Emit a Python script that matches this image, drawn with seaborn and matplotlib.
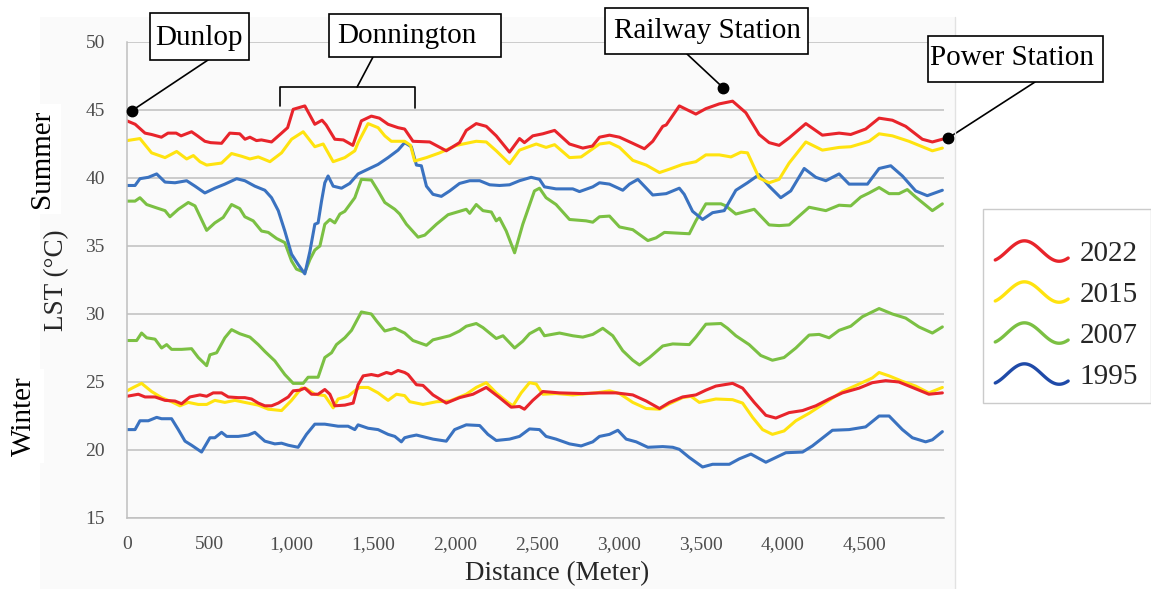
import numpy as np
import pandas as pd
import matplotlib
matplotlib.use("Agg")
import matplotlib.pyplot as plt
from matplotlib.legend_handler import HandlerBase
from matplotlib.lines import Line2D
from matplotlib.patches import Rectangle
import seaborn as sns

# Land surface temperature along the transect: (distance in m, LST in °C)
summer_2022 = [(0,44.2),(50,43.95),(110,43.3),(150,43.2),(210,43.0),(250,43.3),(300,43.3),(330,43.1),(394,43.4),(430,43.1),
               (475,42.7),(510,42.6),(577,42.55),(627,43.3),(688,43.25),(720,42.85),(750,43.0),(790,42.75),(820,42.8),(882,42.65),
               (943,43.3),(980,43.7),(1014,45.05),(1085,45.3),(1146,43.95),(1190,44.25),(1215,43.9),(1268,42.85),(1320,42.8),(1378,42.4),
               (1430,44.2),(1491,44.55),(1540,44.4),(1593,43.95),(1654,43.7),(1694,43.6),(1745,42.7),(1847,42.65),(1948,42.0),(2029,42.6),
               (2070,43.5),(2131,44.0),(2192,43.8),(2253,43.1),(2334,41.9),(2395,42.9),(2425,42.6),(2476,43.1),(2537,43.25),(2609,43.5),
               (2700,42.5),(2781,42.2),(2840,42.35),(2883,43.0),(2944,43.15),(3005,43.0),(3086,42.55),(3157,42.15),(3208,42.7),(3269,43.8),
               (3290,43.9),(3370,45.3),(3471,44.7),(3532,45.1),(3614,45.45),(3695,45.65),(3776,44.8),(3857,43.2),(3918,42.6),(3979,42.4),
               (4040,42.95),(4142,44.0),(4243,43.15),(4345,43.3),(4416,43.2),(4507,43.6),(4589,44.4),(4670,44.25),(4751,43.8),(4853,42.85),
               (4914,42.65),(4975,42.85)]

summer_2015 = [(0,42.75),(79,42.9),(150,41.85),(232,41.5),(303,41.95),(364,41.4),(405,41.65),(445,41.2),(486,40.95),(577,41.1),
               (638,41.8),(699,41.6),(750,41.4),(801,41.55),(872,41.2),(943,41.85),(1004,42.85),(1075,43.4),(1146,42.3),(1197,42.5),
               (1258,41.2),(1329,41.5),(1390,42.0),(1410,42.6),(1471,44.0),(1532,43.7),(1573,43.1),(1613,42.7),(1694,42.7),(1730,42.4),
               (1755,41.25),(1827,41.5),(1908,41.85),(2010,42.4),(2131,42.7),(2192,42.65),(2253,42.0),(2334,41.05),(2395,42.05),(2497,42.5),
               (2557,42.25),(2609,42.45),(2700,41.5),(2771,41.55),(2883,42.5),(2944,42.6),(3005,42.25),(3086,41.3),(3168,40.95),(3249,40.4),
               (3310,40.65),(3390,41.0),(3471,41.2),(3532,41.7),(3614,41.7),(3685,41.55),(3746,41.9),(3786,41.85),(3857,40.0),(3918,39.65),
               (3979,39.9),(4040,41.1),(4142,42.65),(4243,42.05),(4345,42.25),(4416,42.3),(4528,42.7),(4589,43.25),(4670,43.1),(4771,42.7),
               (4914,42.0),(4975,42.2)]

summer_2007 = [(0,38.3),(49,38.3),(79,38.55),(120,38.05),(181,37.8),(232,37.6),(262,37.15),(313,37.7),(374,38.2),(415,37.95),
               (486,36.15),(536,36.7),(587,37.1),(638,38.05),(688,37.75),(719,37.15),(770,36.85),(821,36.1),(862,36.0),(913,35.55),
               (963,35.25),(1004,33.9),(1034,33.3),(1085,33.05),(1116,34.0),(1146,34.7),(1177,35.0),(1207,36.6),(1238,36.95),(1268,36.7),
               (1299,37.35),(1329,37.55),(1390,38.55),(1430,39.9),(1491,39.85),(1532,39.05),(1573,38.2),(1634,37.7),(1664,37.35),(1705,36.6),
               (1776,35.65),(1817,35.8),(1888,36.6),(1959,37.3),(2029,37.55),(2070,37.7),(2091,37.4),(2131,38.05),(2172,37.6),(2223,37.5),
               (2253,36.85),(2273,37.05),(2314,36.1),(2365,34.5),(2415,36.6),(2486,39.05),(2517,39.25),(2557,38.55),(2618,38.05),(2700,36.95),
               (2801,36.85),(2842,36.75),(2883,37.15),(2944,37.2),(3005,36.4),(3086,36.2),(3178,35.4),(3228,35.6),(3279,36.0),(3431,35.9),
               (3471,36.85),(3532,38.1),(3624,38.1),(3654,37.95),(3715,37.35),(3827,37.7),(3918,36.55),(3979,36.5),(4040,36.55),(4162,37.85),
               (4264,37.6),(4345,38.0),(4416,37.95),(4477,38.6),(4528,38.9),(4589,39.3),(4650,38.85),(4710,38.85),(4761,39.15),(4812,38.6),
               (4914,37.6),(4975,38.1)]

summer_1995 = [(0,39.45),(49,39.45),(79,39.95),(130,40.05),(181,40.3),(232,39.7),(293,39.65),(364,39.8),(415,39.4),(475,38.9),
               (536,39.25),(597,39.55),(669,39.95),(719,39.8),(780,39.4),(841,39.1),(882,38.55),(923,37.6),(963,36.1),(1004,34.4),
               (1044,33.65),(1085,32.95),(1116,34.6),(1146,36.6),(1166,36.7),(1187,38.3),(1207,39.65),(1227,40.15),(1258,39.4),(1309,39.25),
               (1359,39.6),(1410,40.3),(1471,40.65),(1532,41.0),(1593,41.5),(1654,42.05),(1694,42.6),(1735,42.3),(1766,40.95),(1796,40.9),
               (1827,39.4),(1867,38.8),(1918,38.65),(1969,39.05),(2029,39.6),(2091,39.8),(2152,39.8),(2213,39.5),(2273,39.45),(2334,39.5),
               (2395,39.8),(2466,40.05),(2517,39.9),(2547,39.35),(2618,39.2),(2720,39.2),(2761,39.0),(2842,39.35),(2883,39.65),(2944,39.55),
               (3025,39.1),(3066,39.55),(3117,39.9),(3208,38.75),(3290,38.85),(3370,39.25),(3400,38.8),(3451,37.55),(3512,36.95),(3573,37.45),
               (3644,37.6),(3715,39.1),(3786,39.65),(3857,40.25),(3918,39.4),(3989,38.55),(4050,39.05),(4132,40.7),(4203,40.05),(4264,39.8),
               (4345,40.3),(4406,39.55),(4518,39.55),(4589,40.7),(4660,40.9),(4731,40.15),(4812,39.05),(4883,38.7),(4975,39.1)]

winter_2007 = [(0,28.05),(59,28.05),(89,28.6),(120,28.25),(171,28.15),(211,27.5),(242,27.75),(272,27.4),(333,27.4),(394,27.45),
               (435,26.8),(486,26.2),(506,27.0),(547,27.15),(597,28.25),(638,28.85),(688,28.55),(750,28.3),(801,27.75),(841,27.25),
               (902,26.55),(963,25.55),(1014,24.9),(1075,24.9),(1105,25.35),(1166,25.35),(1207,26.8),(1248,27.15),(1278,27.75),(1329,28.25),
               (1370,28.8),(1430,30.15),(1491,30.0),(1522,29.5),(1573,28.75),(1634,28.95),(1694,28.6),(1745,28.05),(1827,27.7),(1867,28.1),
               (1969,28.4),(2029,28.75),(2070,29.1),(2131,29.3),(2172,29.0),(2253,28.2),(2294,28.4),(2365,27.5),(2415,28.0),(2456,28.55),
               (2517,28.95),(2547,28.4),(2639,28.6),(2720,28.4),(2781,28.3),(2842,28.5),(2903,28.95),(2964,28.4),(3025,27.3),(3086,26.6),
               (3127,26.25),(3188,26.8),(3269,27.65),(3330,27.8),(3431,27.75),(3471,28.3),(3532,29.25),(3624,29.3),(3664,28.95),(3715,28.4),
               (3796,27.75),(3867,26.95),(3938,26.6),(4009,26.8),(4081,27.5),(4162,28.45),(4223,28.5),(4284,28.25),(4345,28.8),(4416,29.1),
               (4487,29.8),(4589,30.4),(4670,30.0),(4751,29.7),(4832,29.05),(4914,28.6),(4975,29.05)]

winter_2022 = [(0,23.95),(69,24.1),(110,23.9),(171,23.9),(232,23.65),(293,23.6),(333,23.4),(384,23.9),(445,24.05),(486,23.95),
               (526,24.2),(577,24.2),(618,23.9),(679,23.85),(719,23.85),(760,23.75),(801,23.45),(841,23.25),(882,23.25),(923,23.45),
               (984,23.9),(1014,24.35),(1055,24.4),(1085,24.55),(1126,24.1),(1166,24.1),(1207,24.45),(1238,24.1),(1268,23.25),(1329,23.3),
               (1380,23.45),(1410,24.8),(1441,25.45),(1491,25.55),(1532,25.45),(1583,25.7),(1613,25.6),(1654,25.85),(1694,25.7),(1715,25.55),
               (1766,24.8),(1806,24.75),(1867,24.05),(1948,23.45),(2029,23.85),(2111,24.1),(2192,24.6),(2273,23.85),(2344,23.15),(2395,23.2),
               (2425,23.0),(2476,23.65),(2537,24.3),(2639,24.2),(2781,24.15),(2883,24.2),(2984,24.2),(3086,24.05),(3168,23.6),(3249,23.05),
               (3310,23.5),(3390,23.9),(3471,24.05),(3532,24.4),(3593,24.7),(3695,24.9),(3756,24.55),(3827,23.5),(3898,22.55),(3959,22.35),
               (4040,22.75),(4122,22.9),(4203,23.25),(4284,23.75),(4365,24.2),(4467,24.55),(4548,24.95),(4629,25.1),(4710,25.0),(4792,24.6),
               (4893,24.1),(4975,24.2)]

winter_2015 = [(0,24.35),(39,24.6),(89,24.9),(150,24.3),(211,23.85),(272,23.55),(323,23.25),(374,23.5),(435,23.35),(486,23.35),
               (536,23.65),(597,23.5),(658,23.65),(719,23.5),(801,23.3),(862,23.0),(943,22.9),(1004,23.65),(1065,24.55),(1095,24.5),
               (1146,24.1),(1207,24.0),(1258,23.1),(1288,23.75),(1349,23.95),(1390,24.35),(1420,24.6),(1471,24.6),(1532,24.2),(1593,23.65),
               (1644,24.1),(1694,24.0),(1725,23.55),(1806,23.35),(1888,23.55),(1969,23.6),(2070,24.1),(2131,24.6),(2192,24.95),(2253,24.2),
               (2324,23.5),(2355,23.25),(2405,24.2),(2456,24.95),(2497,24.85),(2537,24.1),(2618,24.15),(2720,24.05),(2862,24.2),(2944,24.35),
               (3005,24.15),(3086,23.5),(3168,23.05),(3249,23.0),(3310,23.4),(3390,23.85),(3441,23.95),(3492,23.5),(3593,23.75),(3695,23.7),
               (3756,23.45),(3817,22.4),(3878,21.5),(3938,21.15),(4009,21.4),(4081,22.15),(4162,22.7),(4264,23.5),(4365,24.3),(4467,24.85),
               (4548,25.3),(4589,25.7),(4650,25.45),(4731,25.05),(4812,24.7),(4893,24.2),(4975,24.6)]

winter_1995 = [(0,21.5),(49,21.5),(79,22.15),(130,22.15),(181,22.4),(211,22.3),(272,22.3),(313,21.5),(354,20.65),(394,20.35),
               (455,19.85),(506,20.9),(536,20.9),(577,21.3),(608,21.0),(679,21.0),(740,21.1),(780,21.3),(841,20.65),(902,20.45),
               (943,20.5),(984,20.35),(1044,20.2),(1095,21.15),(1146,21.9),(1207,21.9),(1288,21.75),(1349,21.75),(1390,21.5),(1410,21.85),
               (1471,21.6),(1532,21.5),(1593,21.15),(1634,21.0),(1674,20.6),(1694,20.9),(1725,21.0),(1766,21.1),(1867,20.8),(1948,20.65),
               (1999,21.5),(2070,21.85),(2152,21.8),(2202,21.15),(2253,20.7),(2334,20.8),(2395,21.0),(2456,21.55),(2517,21.5),(2557,21.0),
               (2618,20.8),(2700,20.45),(2771,20.3),(2842,20.6),(2883,21.0),(2944,21.15),(2995,21.45),(3046,20.8),(3107,20.6),(3178,20.2),
               (3269,20.25),(3330,20.2),(3370,20.05),(3431,19.45),(3512,18.75),(3573,18.95),(3675,18.95),(3736,19.35),(3807,19.7),(3898,19.1),
               (3959,19.45),(4020,19.8),(4122,19.85),(4182,20.3),(4304,21.45),(4406,21.5),(4507,21.7),(4589,22.5),(4650,22.5),(4731,21.5),
               (4792,20.9),(4873,20.6),(4914,20.75),(4975,21.35)]

years = ["2022", "2015", "2007", "1995"]
line_colors = {"2022": "#e8242b", "2015": "#ffe30f", "2007": "#7bc043", "1995": "#3a72c0"}
legend_colors = {"2022": "#e8242b", "2015": "#ffe30f", "2007": "#7bc043", "1995": "#1f4aa8"}
x_ticks = [0, 500, 1000, 1500, 2000, 2500, 3000, 3500, 4000, 4500]
y_ticks = [15, 20, 25, 30, 35, 40, 45, 50]

# Labelled places along the transect: (distance, LST of marker)
places = {"Dunlop": (30, 44.95), "Railway Station": (3639, 46.62), "Power Station": (5011, 42.94)}
donnington_span = (934, 1759)

profiles = {
    ("Summer", "2022"): summer_2022, ("Summer", "2015"): summer_2015,
    ("Summer", "2007"): summer_2007, ("Summer", "1995"): summer_1995,
    ("Winter", "2022"): winter_2022, ("Winter", "2015"): winter_2015,
    ("Winter", "2007"): winter_2007, ("Winter", "1995"): winter_1995,
}
rows = []
for (season, year), pts in profiles.items():
    for d, v in pts:
        rows.append({"season": season, "year": year, "distance": d, "lst": v})
df = pd.DataFrame(rows)

sns.set_theme(style="white")
plt.rcParams["font.family"] = ["Liberation Serif", "DejaVu Serif"]

W, H = 1151, 589
fig = plt.figure(figsize=(W / 100, H / 100), dpi=100)
fig.patch.set_facecolor("white")


def fpx(x, y):
    """Pixel position (from the top-left corner) to figure fraction."""
    return x / W, 1 - y / H


# light panel behind the chart
fig.patches.append(Rectangle((40 / W, 0), (955 - 40) / W, (H - 17) / H, transform=fig.transFigure,
                             facecolor="#fafafa", edgecolor="none", zorder=-10))
fig.lines.append(Line2D([955 / W, 955 / W], [0, (H - 17) / H], transform=fig.transFigure,
                        color="#e2e2e2", lw=1))

ax = fig.add_axes([127 / W, 1 - 518 / H, (944 - 127) / W, (518 - 42) / H])
ax.patch.set_alpha(0)

sns.lineplot(data=df, x="distance", y="lst", hue="year", units="season", estimator=None,
             hue_order=["2007", "1995", "2015", "2022"], palette=line_colors,
             linewidth=2.2, legend=False, sort=False, ax=ax)

ax.set_xlim(0, 4985)
ax.set_ylim(15, 50)
ax.set_xticks(x_ticks)
ax.set_xticklabels([f"{t:,}" for t in x_ticks])
ax.set_yticks(y_ticks)
ax.set_yticklabels([str(t) for t in y_ticks])
ax.yaxis.grid(True, color="#bfbfbf", lw=1.1)
ax.xaxis.grid(False)
ax.set_axisbelow(True)
for side in ["top", "right"]:
    ax.spines[side].set_visible(False)
for side in ["left", "bottom"]:
    ax.spines[side].set_color("#bfbfbf")
    ax.spines[side].set_linewidth(1.1)
ax.tick_params(axis="x", length=4, width=1, color="#bfbfbf", pad=9, labelsize=14, labelcolor="#4d4d4d")
ax.tick_params(axis="y", length=0, pad=16, labelsize=14, labelcolor="#4d4d4d")
ax.set_xlabel("")
ax.set_ylabel("")

fig.text(*fpx(57, 280), "LST (°C)", rotation=90, ha="center", va="center", fontsize=19.5, color="#262626")
fig.text(*fpx(557, 574), "Distance (Meter)", ha="center", va="center", fontsize=19.5, color="#262626")
fig.text(*fpx(42, 159), "Summer", rotation=90, ha="center", va="center", fontsize=21, color="black",
         bbox=dict(facecolor="white", edgecolor="none", pad=4))
fig.text(*fpx(24, 416), "Winter", rotation=90, ha="center", va="center", fontsize=21, color="black",
         bbox=dict(facecolor="white", edgecolor="none", pad=5))

# place markers
for name in places:
    d, v = places[name]
    ax.plot([d], [v], "o", color="black", markersize=7.5, clip_on=False, zorder=6)

# Donnington bracket
d0, d1 = donnington_span
ax.plot([d0, d0, d1, d1], [45.29, 46.69, 46.69, 45.15], color="black", lw=1.2, clip_on=False, zorder=6)

# name boxes: box (left, top, right, bottom) in px, text (x, baseline) in px, leader start in px, leader target in data
callouts = [
    ("Dunlop", (150, 13, 249, 60), (199, 45), (208, 60), places["Dunlop"]),
    ("Donnington", (329, 14, 501, 57), (407, 43), (373, 57), (1404, 46.69)),
    ("Railway Station", (605, 8, 808, 54), (708, 38), (687, 54), places["Railway Station"]),
    ("Power Station", (928, 36, 1103, 82), (1012, 65), (1035, 82), places["Power Station"]),
]
for name, (bx0, by0, bx1, by1), (tx, ty), (sx, sy), target in callouts:
    fig.patches.append(Rectangle(fpx(bx0, by1), (bx1 - bx0) / W, (by1 - by0) / H, transform=fig.transFigure,
                                 facecolor="white", edgecolor="black", lw=1.2, zorder=5))
    fig.text(*fpx(tx, ty), name, ha="center", va="baseline", fontsize=21, color="black", zorder=6)
    ax.annotate("", xy=target, xycoords="data", xytext=(sx, H - sy), textcoords="figure pixels",
                arrowprops=dict(arrowstyle="-", color="black", lw=1.2, shrinkA=0, shrinkB=0),
                annotation_clip=False, zorder=6)


class WaveHandler(HandlerBase):
    def create_artists(self, legend, orig_handle, xdescent, ydescent, width, height, fontsize, trans):
        t = np.linspace(0, 1, 80)
        x = -xdescent + width * t
        y = -ydescent + height / 2 + 0.5 * height * np.sin(2 * np.pi * (1.05 * t - 0.17))
        wave = Line2D(x, y, color=orig_handle.get_color(), lw=orig_handle.get_linewidth(),
                      solid_capstyle="round")
        wave.set_transform(trans)
        return [wave]


handles = [Line2D([], [], color=legend_colors[y], lw=2.4) for y in years]
leg = fig.legend(handles, years, loc="upper left", bbox_to_anchor=fpx(983, 209),
                 bbox_transform=fig.transFigure, fontsize=21, frameon=True, fancybox=False,
                 handlelength=2.5, handletextpad=0.4, borderpad=0.42, labelspacing=0.5,
                 borderaxespad=0, title=" ", title_fontsize=5,
                 handler_map={Line2D: WaveHandler()})
leg.get_frame().set_edgecolor("#bfbfbf")
leg.get_frame().set_linewidth(1.0)
leg.get_frame().set_facecolor("white")

fig.savefig("out.png", dpi=100, facecolor=fig.get_facecolor())
